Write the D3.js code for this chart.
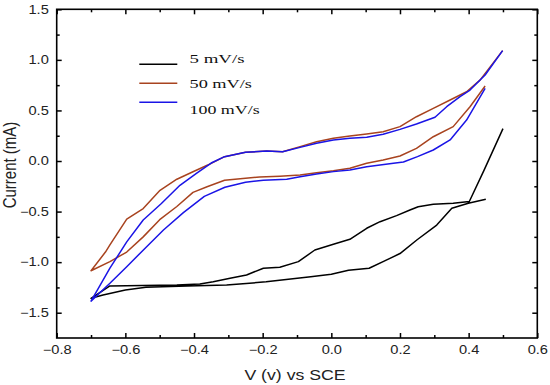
<!DOCTYPE html>
<html><head><meta charset="utf-8">
<script src="https://cdn.jsdelivr.net/npm/d3@7"></script>
<style>body{margin:0;background:#fff}svg{display:block}</style>
</head><body><svg id="c" width="550" height="385"></svg>
<script>
// ---- data ----
const seriesNames = ["5 mV/s", "50 mV/s", "100 mV/s"];
const seriesColors = ["#000000", "#a8431f", "#1a14e6"];

const v5x = [0.50, 0.445, 0.402, 0.355, 0.297, 0.253, 0.229, 0.19, 0.142, 0.103, 0.054, 0.006, -0.048, -0.096, -0.15, -0.198, -0.247, -0.295, -0.344, -0.383, -0.45, -0.55, -0.645, -0.70, -0.665, -0.60, -0.54, -0.42, -0.305, -0.19, -0.06, 0.0, 0.05, 0.11, 0.16, 0.20, 0.249, 0.307, 0.351, 0.399, 0.45];
const v5y = [0.32, -0.09, -0.40, -0.418, -0.428, -0.452, -0.484, -0.54, -0.60, -0.665, -0.774, -0.823, -0.88, -0.995, -1.05, -1.06, -1.127, -1.16, -1.193, -1.216, -1.225, -1.23, -1.235, -1.357, -1.325, -1.275, -1.249, -1.236, -1.226, -1.195, -1.145, -1.12, -1.08, -1.06, -0.98, -0.915, -0.781, -0.633, -0.468, -0.418, -0.379];

const v50x = [0.448, 0.404, 0.355, 0.297, 0.248, 0.2, 0.151, 0.103, 0.054, 0.006, -0.043, -0.091, -0.15, -0.209, -0.311, -0.362, -0.403, -0.45, -0.50, -0.548, -0.596, -0.645, -0.70,
              -0.658, -0.645, -0.596, -0.548, -0.499, -0.45, -0.403, -0.36, -0.311, -0.25, -0.188, -0.142, -0.091, -0.043, 0.006, 0.054, 0.103, 0.151, 0.2, 0.248, 0.297, 0.346, 0.394, 0.433, 0.499];
const v50y = [0.742, 0.537, 0.34, 0.24, 0.125, 0.05, 0.01, -0.023, -0.072, -0.096, -0.115, -0.138, -0.15, -0.158, -0.19, -0.254, -0.31, -0.45, -0.58, -0.75, -0.90, -0.995, -1.085,
              -0.90, -0.83, -0.575, -0.47, -0.29, -0.18, -0.106, -0.04, 0.043, 0.086, 0.099, 0.092, 0.142, 0.191, 0.224, 0.247, 0.267, 0.29, 0.34, 0.438, 0.521, 0.603, 0.685, 0.80, 1.091];

const v100x = [0.448, 0.394, 0.346, 0.297, 0.251, 0.21, 0.181, 0.103, 0.054, 0.006, -0.043, -0.091, -0.13, -0.198, -0.25, -0.31, -0.37, -0.431, -0.489, -0.538, -0.596, -0.645, -0.70,
               -0.645, -0.596, -0.548, -0.495, -0.441, -0.393, -0.35, -0.311, -0.25, -0.188, -0.142, -0.091, -0.043, 0.006, 0.054, 0.103, 0.151, 0.2, 0.248, 0.302, 0.336, 0.375, 0.404, 0.448, 0.499];
const v100y = [0.719, 0.405, 0.208, 0.109, 0.043, -0.01, -0.023, -0.056, -0.089, -0.105, -0.129, -0.155, -0.18, -0.19, -0.21, -0.26, -0.35, -0.51, -0.682, -0.847, -1.045, -1.209, -1.385,
               -1.06, -0.80, -0.583, -0.42, -0.24, -0.122, -0.02, 0.043, 0.086, 0.099, 0.092, 0.135, 0.175, 0.208, 0.225, 0.234, 0.264, 0.313, 0.366, 0.432, 0.537, 0.636, 0.702, 0.85, 1.091];

const xTicks = [-0.8, -0.6, -0.4, -0.2, 0.0, 0.2, 0.4, 0.6];
const xMinorTicks = [-0.7, -0.5, -0.3, -0.1, 0.1, 0.3, 0.5];
const yTicks = [-1.5, -1.0, -0.5, 0.0, 0.5, 1.0, 1.5];
const yMinorTicks = [-1.25, -0.75, -0.25, 0.25, 0.75, 1.25];
const xTitle = "V (v) vs SCE";
const yTitle = "Current (mA)";

// ---- drawing ----
const L = 56.7, R = 537.3, T = 9.3, B = 338;
const svg = d3.select("#c");
const x = d3.scaleLinear().domain([-0.8, 0.6]).range([L, R]);
const y = d3.scaleLinear().domain([-1.75, 1.5]).range([B, T]);
const fmt = d3.format(".1f");
const SX = 1.22;

function styleAxis(g){
  g.select(".domain").remove();
  g.selectAll(".tick line").attr("stroke", "#000").attr("stroke-width", 1.5);
  g.selectAll("text").attr("fill", "#222").style("font-family", "Liberation Sans, Arial, sans-serif").style("font-size", "12px");
}

// bottom
svg.append("g").attr("transform", `translate(0,${B})`)
  .call(d3.axisBottom(x).tickValues(xTicks).tickFormat(fmt).tickSize(-5).tickPadding(7))
  .call(styleAxis)
  .selectAll("text").attr("transform", `scale(${SX},1)`);
svg.append("g").attr("transform", `translate(0,${B})`)
  .call(d3.axisBottom(x).tickValues(xMinorTicks).tickFormat("").tickSize(-3))
  .call(styleAxis);
// top
svg.append("g").attr("transform", `translate(0,${T})`)
  .call(d3.axisTop(x).tickValues(xTicks).tickFormat("").tickSize(-5))
  .call(styleAxis);
svg.append("g").attr("transform", `translate(0,${T})`)
  .call(d3.axisTop(x).tickValues(xMinorTicks).tickFormat("").tickSize(-3))
  .call(styleAxis);
// left
svg.append("g").attr("transform", `translate(${L},0)`)
  .call(d3.axisLeft(y).tickValues(yTicks).tickFormat(fmt).tickSize(-5).tickPadding(6.5))
  .call(styleAxis)
  .selectAll("text").attr("transform", `scale(${SX},1)`);
svg.append("g").attr("transform", `translate(${L},0)`)
  .call(d3.axisLeft(y).tickValues(yMinorTicks).tickFormat("").tickSize(-3))
  .call(styleAxis);
// right
svg.append("g").attr("transform", `translate(${R},0)`)
  .call(d3.axisRight(y).tickValues(yTicks).tickFormat("").tickSize(-5))
  .call(styleAxis);
svg.append("g").attr("transform", `translate(${R},0)`)
  .call(d3.axisRight(y).tickValues(yMinorTicks).tickFormat("").tickSize(-3))
  .call(styleAxis);

// frame
svg.append("rect").attr("x", L).attr("y", T).attr("width", R - L).attr("height", B - T)
  .attr("fill", "none").attr("stroke", "#000").attr("stroke-width", 1.6);

// curves
const line = d3.line().x(d => x(d[0])).y(d => y(d[1]));
const seriesData = [
  d3.zip(v5x, v5y),
  d3.zip(v50x, v50y),
  d3.zip(v100x, v100y)
];
seriesData.forEach((pts, i) => {
  svg.append("path").datum(pts).attr("d", line)
    .attr("fill", "none").attr("stroke", seriesColors[i]).attr("stroke-width", 1.5)
    .attr("stroke-linejoin", "round");
});

// legend
const legY = [64.3, 83.3, 102.3];
const legTextY = [62.5, 88, 113.5];
const legW = [55, 62.5, 70.2];
seriesNames.forEach((n, i) => {
  svg.append("line").attr("x1", 139.3).attr("x2", 177.3).attr("y1", legY[i]).attr("y2", legY[i])
    .attr("stroke", seriesColors[i]).attr("stroke-width", 1.6);
  svg.append("text").attr("x", 189.5).attr("y", legTextY[i]).text(n)
    .attr("textLength", legW[i]).attr("lengthAdjust", "spacingAndGlyphs")
    .style("font-family", "Liberation Serif, Times New Roman, serif").style("font-size", "13.5px").attr("fill", "#111");
});

// axis titles
svg.append("text").attr("transform", `translate(${(L + R) / 2 - 2},379.5) scale(1.18,1)`)
  .attr("text-anchor", "middle").text(xTitle)
  .style("font-family", "Liberation Sans, Arial, sans-serif").style("font-size", "15px").attr("fill", "#222");
svg.append("text").attr("transform", `translate(15.5,165) scale(1.17,1) rotate(-90)`)
  .attr("text-anchor", "middle").text(yTitle)
  .style("font-family", "Liberation Sans, Arial, sans-serif").style("font-size", "15px").attr("fill", "#222");
</script>
</body></html>
